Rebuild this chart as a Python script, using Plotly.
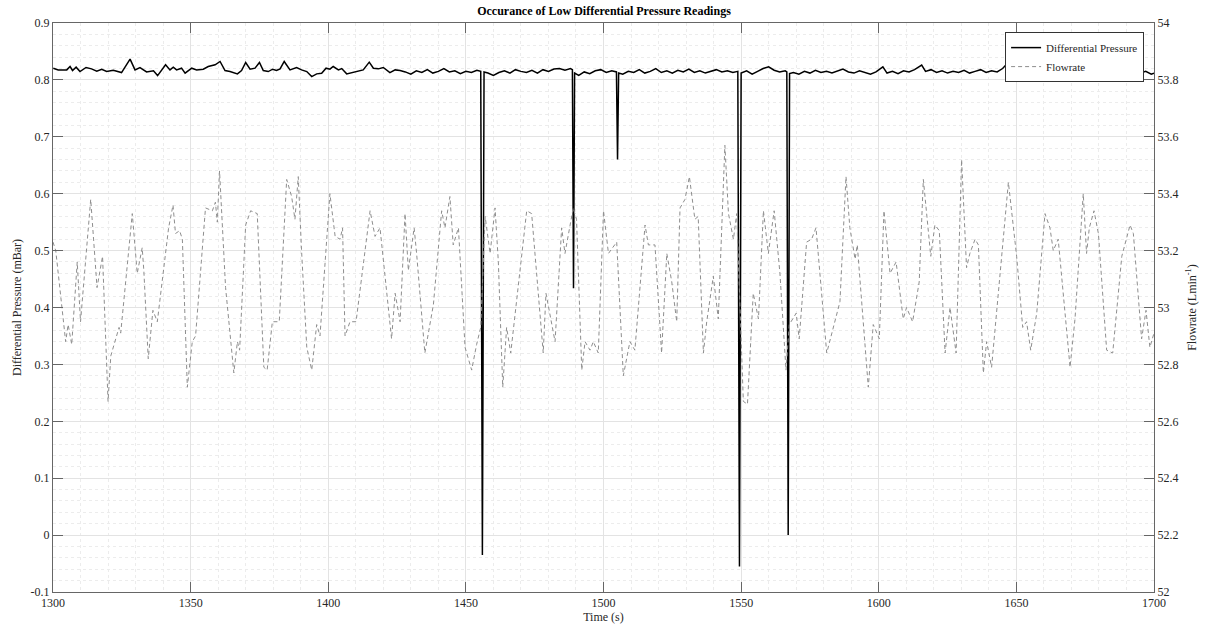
import plotly.graph_objects as go

# ---------------- data ----------------
flow_t = [1300, 1301, 1304.6, 1305.5, 1306.8, 1308.8, 1310, 1313.7, 1316, 1318, 1320, 1321, 1324, 1324.6,
          1328.8, 1330.6, 1332.4, 1333, 1334.6, 1336.3, 1337.9, 1342, 1343.6, 1344.5, 1346, 1347, 1348.8,
          1350.6, 1351.8, 1355.4, 1357.9, 1359, 1359.7, 1360.5, 1362.7, 1365.1, 1365.7, 1367, 1367.8, 1370,
          1371.8, 1374.2, 1376.6, 1377.8, 1379.7, 1382.2, 1384.9, 1386.7, 1387.9, 1389.1, 1390.3, 1392.2,
          1394, 1395.8, 1397, 1400.6, 1402.5, 1404.3, 1405.2, 1406.1, 1407.9, 1410.1, 1415.2, 1417, 1418.8,
          1423, 1424.3, 1426.1, 1427.9, 1429.1, 1431.2, 1432.1, 1435.1, 1438.2, 1441.2, 1442.4, 1444.2,
          1445.4, 1447.3, 1449.7, 1452.1, 1453.9, 1455.4, 1457, 1458.8, 1460.6, 1461.8, 1463.4, 1464.8,
          1466.3, 1472.1, 1473.9, 1478.1, 1479.1, 1482.4, 1484.8, 1486, 1489, 1490.2, 1492.1, 1493.3,
          1495.1, 1496.3, 1498.1, 1500, 1501.8, 1504.8, 1507.2, 1509.6, 1511.4, 1515.1, 1516.3, 1518.7,
          1521.1, 1523, 1524.8, 1526.6, 1527.8, 1529.6, 1531.2, 1533.2, 1534.4, 1536.3, 1537.5, 1539.9,
          1541.7, 1544.1, 1545.4, 1547.2, 1548.4, 1550.2, 1550.8, 1552.3, 1554.4, 1556.3, 1558.1, 1559.9,
          1562, 1564.1, 1566.3, 1567.5, 1570, 1571.1, 1573.8, 1575.6, 1577.2, 1581.1, 1585.9, 1588.1,
          1589.5, 1591.4, 1592.2, 1596.2, 1598, 1600.2, 1601.9, 1604.1, 1606.3, 1608.9, 1610.1, 1612.3,
          1614.7, 1616.2, 1618.9, 1620.4, 1622, 1624.1, 1625.9, 1628.1, 1630.1, 1631.9, 1633.1, 1635,
          1636.2, 1638, 1639.2, 1641, 1647.1, 1650.1, 1652.3, 1653.7, 1655.2, 1657.4, 1660.4, 1662.2,
          1663.4, 1665.2, 1669.5, 1671.3, 1674.3, 1675.5, 1676.5, 1678.2, 1679.8, 1682.8, 1685, 1688.3,
          1691.3, 1692.5, 1695.5, 1697.1, 1698.5, 1700]
flow_v = [53.23, 53.20, 52.88, 52.94, 52.87, 53.16, 52.95, 53.38, 53.07, 53.18, 52.67, 52.83, 52.93, 52.91,
          53.33, 53.12, 53.21, 53.13, 52.82, 52.99, 52.95, 53.28, 53.36, 53.26, 53.27, 53.24, 52.72,
          52.88, 52.90, 53.35, 53.34, 53.37, 53.30, 53.48, 53.07, 52.82, 52.77, 52.88, 52.85, 53.29,
          53.34, 53.33, 52.79, 52.78, 52.95, 52.95, 53.45, 53.39, 53.31, 53.46, 53.20, 52.86,
          52.78, 52.94, 52.90, 53.40, 53.25, 53.24, 53.28, 52.90, 52.95, 52.95, 53.34, 53.25, 53.28,
          52.89, 53.05, 52.95, 53.33, 53.13, 53.28, 53.19, 52.84, 53.01, 53.34, 53.28, 53.39,
          53.22, 53.28, 52.86, 52.78, 52.87, 52.93, 53.32, 53.19, 53.35, 53.16, 52.72, 52.93,
          52.84, 53.34, 53.33, 52.84, 53.05, 52.88, 53.28, 53.19, 53.35, 53.31, 52.78, 52.88,
          52.85, 52.88, 52.84, 53.34, 53.19, 53.23, 52.76, 52.88, 52.85, 53.29, 53.22, 53.22,
          52.84, 53.19, 53.09, 52.95, 53.35, 53.38, 53.46, 53.31, 53.32, 52.84, 52.95, 53.11,
          52.96, 53.57, 53.33, 53.24, 53.33, 52.84, 52.67, 52.66, 53.05, 52.96, 53.34, 53.19,
          53.34, 53.12, 52.78, 52.94, 52.98, 52.89, 53.23, 53.24, 53.28, 52.84, 53.02, 53.46,
          53.28, 53.17, 53.22, 52.72, 52.94, 52.89, 53.34, 53.12, 53.16, 52.96, 53.00, 52.95,
          53.09, 53.45, 53.18, 53.29, 53.27, 52.84, 53.00, 52.84, 53.52, 53.14, 53.19, 53.24,
          53.22, 52.77, 52.88, 52.79, 53.44, 53.18, 52.93, 52.95, 52.85, 52.98, 53.33, 53.28,
          53.20, 53.24, 52.79, 52.96, 53.40, 53.19, 53.28, 53.34, 53.26, 52.85, 52.84, 53.18,
          53.29, 53.26, 52.89, 52.99, 52.86, 52.91]

dp_t = [1300.1, 1301.9, 1305.0, 1306.2, 1307.1, 1308.4, 1309.8, 1312.0, 1314.0, 1315.9, 1317.7, 1319.5,
        1321.9, 1324.9, 1328.0, 1329.8, 1331.6, 1334.0, 1336.5, 1338.0, 1340.9, 1342.5, 1343.7, 1344.9,
        1346.7, 1348.0, 1350.4, 1352.2, 1354.6, 1356.4, 1358.9, 1360.7, 1362.5, 1364.3, 1367.0, 1368.5,
        1370.0, 1371.6, 1373.4, 1375.0, 1376.4, 1378.2, 1379.8, 1381.2, 1382.5, 1384.0, 1386.1, 1388.5,
        1390.3, 1392.2, 1394.0, 1395.8, 1397.6, 1399.2, 1400.6, 1401.8, 1403.7, 1404.9, 1406.7, 1408.9,
        1410.9, 1412.7, 1414.9, 1416.4, 1418.2, 1420.0, 1422.4, 1424.3, 1426.1,
        1428, 1430, 1432, 1434, 1436, 1438, 1440, 1442, 1444, 1446, 1448, 1450, 1452, 1454, 1455.4,
        1456, 1456.6, 1458, 1460, 1462, 1464, 1466, 1468, 1470, 1472, 1474, 1476, 1478, 1480, 1482,
        1484, 1486, 1488, 1488.7, 1489.1, 1489.5, 1491, 1493, 1495, 1497, 1499, 1501, 1503, 1504.7,
        1505.1, 1505.5, 1507, 1509, 1511, 1513, 1515, 1517, 1519, 1521, 1523, 1525, 1527, 1529, 1531,
        1533, 1535, 1537, 1539, 1541, 1543, 1545, 1547, 1548.8, 1549.4, 1550, 1552, 1554, 1556, 1558,
        1560, 1562, 1564, 1566, 1566.6, 1567.1, 1567.6, 1569, 1571, 1573, 1575, 1577, 1579, 1581, 1583,
        1585, 1587, 1589, 1591, 1593, 1595, 1597, 1599, 1601.5, 1603, 1605, 1607, 1609, 1611, 1613,
        1615.6, 1617, 1619, 1621, 1623, 1625, 1627, 1629, 1631, 1633, 1635, 1637, 1639, 1641, 1643,
        1645, 1647.3, 1649, 1651, 1653, 1655, 1657, 1659, 1661, 1663, 1665, 1667, 1669, 1671.9, 1673,
        1675, 1677, 1679, 1681, 1683, 1685, 1687, 1689, 1691, 1693, 1695, 1697, 1699, 1700]
dp_v = [0.8206, 0.8176, 0.8176, 0.8235, 0.8165, 0.8224, 0.8147, 0.8218, 0.8194, 0.8153, 0.8188, 0.8147,
        0.8171, 0.8129, 0.8365, 0.8176, 0.8218, 0.8141, 0.8159, 0.8076, 0.8265, 0.8176, 0.8224, 0.8176,
        0.8206, 0.8118, 0.8206, 0.8176, 0.8188, 0.8235, 0.8265, 0.8324, 0.8165, 0.8147, 0.8106, 0.8165,
        0.8306, 0.8188, 0.8206, 0.8306, 0.8165, 0.8147, 0.8188, 0.8165, 0.8194, 0.8324, 0.8176, 0.8218,
        0.8176, 0.8147, 0.8059, 0.8106, 0.8118, 0.8206, 0.8188, 0.8235, 0.8176, 0.8200, 0.8106, 0.8129,
        0.8147, 0.8176, 0.8312, 0.8206, 0.8194, 0.8218, 0.8129, 0.8176, 0.8165,
        0.814, 0.810, 0.816, 0.813, 0.818, 0.812, 0.815, 0.820, 0.814, 0.816, 0.811, 0.815, 0.813, 0.817, 0.815,
        -0.035, 0.814, 0.812, 0.808, 0.813, 0.816, 0.812, 0.818, 0.815, 0.813, 0.817, 0.812, 0.818, 0.815, 0.819,
        0.820, 0.817, 0.820, 0.818, 0.434, 0.812, 0.808, 0.814, 0.811, 0.816, 0.818, 0.813, 0.816, 0.814,
        0.660, 0.812, 0.810, 0.815, 0.813, 0.818, 0.812, 0.815, 0.820, 0.813, 0.816, 0.812, 0.817, 0.814, 0.819,
        0.813, 0.816, 0.812, 0.815, 0.818, 0.814, 0.816, 0.813, 0.815, -0.055, 0.812, 0.816, 0.810, 0.815, 0.820,
        0.823, 0.817, 0.814, 0.816, 0.814, 0.000, 0.811, 0.813, 0.810, 0.815, 0.812, 0.817, 0.813, 0.815, 0.812,
        0.816, 0.819, 0.814, 0.812, 0.816, 0.813, 0.810, 0.814, 0.823, 0.812, 0.815, 0.811, 0.816, 0.814, 0.818,
        0.826, 0.815, 0.818, 0.813, 0.816, 0.812, 0.815, 0.813, 0.817, 0.812, 0.815, 0.818, 0.813, 0.816, 0.814,
        0.820, 0.832, 0.818, 0.811, 0.814, 0.812, 0.816, 0.813, 0.815, 0.818, 0.814, 0.812, 0.816, 0.822, 0.814,
        0.811, 0.815, 0.813, 0.816, 0.812, 0.815, 0.813, 0.817, 0.814, 0.816, 0.812, 0.815, 0.810, 0.812]

x_ticks = [1300, 1350, 1400, 1450, 1500, 1550, 1600, 1650, 1700]
y_ticks = [-0.1, 0, 0.1, 0.2, 0.3, 0.4, 0.5, 0.6, 0.7, 0.8, 0.9]
y_ticklabels = ["-0.1", "0", "0.1", "0.2", "0.3", "0.4", "0.5", "0.6", "0.7", "0.8", "0.9"]
y2_ticks = [52, 52.2, 52.4, 52.6, 52.8, 53, 53.2, 53.4, 53.6, 53.8, 54]
y2_ticklabels = ["52", "52.2", "52.4", "52.6", "52.8", "53", "53.2", "53.4", "53.6", "53.8", "54"]

FONT = "Liberation Serif"
AX = "#666666"
TXT = "#262626"

fig = go.Figure()
fig.add_trace(go.Scatter(x=dp_t, y=dp_v, mode="lines", name="Differential Pressure",
                         line=dict(color="black", width=1.5), yaxis="y"))
fig.add_trace(go.Scatter(x=flow_t, y=flow_v, mode="lines", name="Flowrate",
                         line=dict(color="#8e8e8e", width=1, dash="4px,3px"), yaxis="y2"))

fig.update_layout(
    width=1208, height=630,
    margin=dict(l=53, r=54, t=23, b=38, autoexpand=False),
    paper_bgcolor="white", plot_bgcolor="white",
    font=dict(family=FONT, size=12, color=TXT),
    title=dict(text="<b>Occurance of Low Differential Pressure Readings</b>",
               x=0.5, xanchor="center", y=1 - 11 / 630, yanchor="middle", yref="container",
               font=dict(family=FONT, size=12, color="black")),
    showlegend=True,
    legend=dict(x=0.991, y=0.984, xanchor="right", yanchor="top",
                bgcolor="white", bordercolor="#333333", borderwidth=1,
                font=dict(family=FONT, size=11, color=TXT),
                tracegroupgap=0, itemwidth=30),
    xaxis=dict(range=[1300, 1700], tickvals=x_ticks, showline=True, linecolor=AX, linewidth=1,
               mirror="ticks", ticks="inside", ticklen=10, tickcolor=AX, automargin=False,
               showgrid=True, gridcolor="#e3e3e3", gridwidth=1, zeroline=False,
               minor=dict(dtick=10, tick0=1300, showgrid=True, gridcolor="#ececec", griddash="dot", ticks=""),
               title=dict(text="Time (s)", standoff=2, font=dict(family=FONT, size=12, color=TXT)),
               tickfont=dict(family=FONT, size=12, color=TXT)),
    yaxis=dict(range=[-0.1, 0.9], tickvals=y_ticks, ticktext=y_ticklabels, showline=True, linecolor=AX,
               linewidth=1, ticks="inside", ticklen=10, tickcolor=AX, automargin=False,
               showgrid=True, gridcolor="#e3e3e3", gridwidth=1, zeroline=False,
               minor=dict(dtick=0.02, tick0=-0.1, showgrid=True, gridcolor="#ececec", griddash="dot", ticks=""),
               title=dict(text="Differential Pressure (mBar)", standoff=6,
                          font=dict(family=FONT, size=12, color=TXT)),
               tickfont=dict(family=FONT, size=12, color=TXT)),
    yaxis2=dict(range=[52, 54], tickvals=y2_ticks, ticktext=y2_ticklabels, overlaying="y", side="right",
                showline=True, linecolor=AX, linewidth=1, ticks="inside", ticklen=10, tickcolor=AX,
                showgrid=False, zeroline=False, automargin=False,
                title=dict(text="Flowrate (Lmin<sup>-1</sup>)", standoff=10,
                           font=dict(family=FONT, size=12, color=TXT)),
                tickfont=dict(family=FONT, size=12, color=TXT)),
)

fig.write_html("out.html", config={"displayModeBar": False},
               post_script="document.body.style.margin='0';document.body.style.overflow='hidden';")
